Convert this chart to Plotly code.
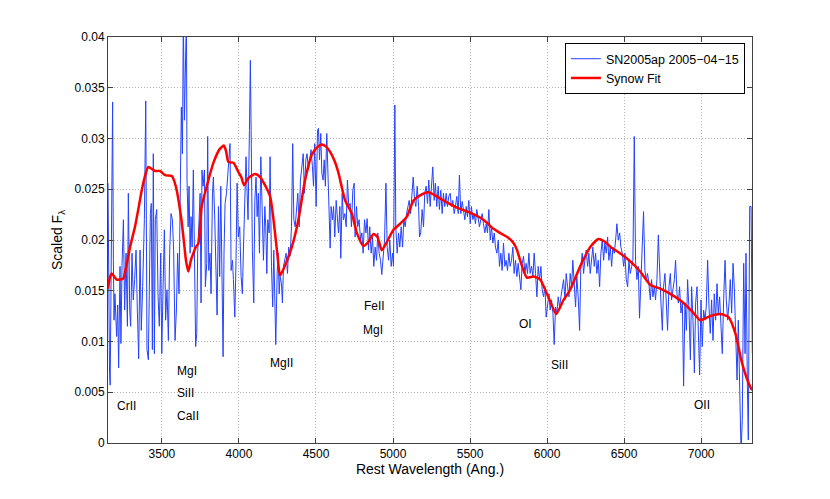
import plotly.graph_objects as go

# observed spectrum (rest wavelength in Angstrom, scaled flux)
wave_obs = [
    3150, 3155, 3160, 3164, 3170, 3175, 3180, 3185, 3189, 3195, 3202, 3206, 3213, 3219, 3228, 3234,
    3241, 3250, 3258, 3267, 3276, 3282, 3291, 3297, 3306, 3314, 3323, 3332, 3340, 3349, 3358, 3366,
    3375, 3386, 3395, 3403, 3412, 3418, 3425, 3431, 3438, 3444, 3451, 3457, 3466, 3475, 3483, 3492,
    3499, 3507, 3516, 3524, 3533, 3542, 3550, 3559, 3568, 3576, 3585, 3594, 3602, 3611, 3620, 3626,
    3633, 3639, 3646, 3652, 3659, 3663, 3670, 3676, 3683, 3689, 3696, 3704, 3713, 3719, 3726, 3732,
    3739, 3748, 3754, 3760, 3767, 3776, 3782, 3791, 3797, 3804, 3812, 3819, 3828, 3834, 3843, 3849,
    3858, 3867, 3875, 3882, 3890, 3897, 3903, 3910, 3919, 3927, 3936, 3942, 3949, 3958, 3964, 3973,
    3981, 3988, 3996, 4005, 4014, 4022, 4029, 4038, 4046, 4053, 4059, 4068, 4074, 4081, 4087, 4096,
    4103, 4111, 4118, 4126, 4133, 4142, 4150, 4159, 4168, 4174, 4181, 4187, 4196, 4202, 4211, 4219,
    4226, 4232, 4239, 4248, 4254, 4261, 4267, 4276, 4282, 4289, 4297, 4306, 4315, 4323, 4332, 4341,
    4349, 4356, 4365, 4373, 4382, 4391, 4399, 4408, 4417, 4425, 4434, 4442, 4451, 4460, 4468, 4477,
    4484, 4492, 4501, 4510, 4516, 4523, 4531, 4538, 4546, 4553, 4561, 4570, 4577, 4583, 4592, 4598,
    4607, 4614, 4622, 4631, 4637, 4646, 4655, 4661, 4670, 4678, 4687, 4696, 4704, 4713, 4722, 4730,
    4739, 4748, 4754, 4763, 4771, 4780, 4789, 4798, 4806, 4815, 4824, 4832, 4841, 4849, 4858, 4867,
    4875, 4884, 4893, 4901, 4910, 4919, 4927, 4936, 4945, 4954, 4962, 4971, 4979, 4988, 4997, 5003,
    5012, 5018, 5027, 5036, 5044, 5053, 5062, 5070, 5079, 5088, 5096, 5105, 5114, 5122, 5131, 5140,
    5148, 5157, 5166, 5172, 5180, 5189, 5198, 5206, 5215, 5224, 5232, 5241, 5250, 5258, 5267, 5275,
    5284, 5293, 5301, 5310, 5319, 5327, 5336, 5345, 5353, 5362, 5371, 5379, 5388, 5397, 5405, 5414,
    5423, 5431, 5440, 5449, 5457, 5466, 5475, 5483, 5492, 5501, 5509, 5518, 5527, 5535, 5544, 5553,
    5561, 5570, 5579, 5587, 5596, 5605, 5613, 5622, 5631, 5639, 5648, 5657, 5665, 5674, 5683, 5691,
    5700, 5708, 5717, 5726, 5734, 5743, 5752, 5760, 5769, 5778, 5786, 5795, 5804, 5812, 5821, 5830,
    5838, 5847, 5856, 5864, 5873, 5882, 5890, 5899, 5908, 5916, 5925, 5934, 5942, 5951, 5960, 5968,
    5977, 5986, 5994, 6003, 6012, 6020, 6029, 6038, 6046, 6055, 6064, 6072, 6081, 6090, 6098, 6107,
    6116, 6124, 6133, 6142, 6150, 6159, 6167, 6176, 6185, 6193, 6202, 6211, 6219, 6228, 6237, 6245,
    6254, 6263, 6271, 6280, 6289, 6297, 6306, 6315, 6323, 6332, 6341, 6349, 6358, 6367, 6375, 6384,
    6393, 6401, 6410, 6419, 6427, 6436, 6445, 6453, 6462, 6471, 6479, 6488, 6497, 6505, 6514, 6523,
    6531, 6540, 6549, 6557, 6566, 6574, 6583, 6592, 6600, 6609, 6618, 6626, 6635, 6644, 6652, 6661,
    6670, 6678, 6687, 6696, 6704, 6713, 6722, 6730, 6739, 6748, 6756, 6765, 6774, 6782, 6791, 6800,
    6808, 6817, 6826, 6834, 6843, 6852, 6860, 6869, 6878, 6886, 6895, 6904, 6912, 6921, 6930, 6938,
    6947, 6956, 6964, 6973, 6981, 6990, 6999, 7007, 7016, 7025, 7033, 7042, 7051, 7059, 7068, 7077,
    7085, 7094, 7103, 7111, 7120, 7129, 7137, 7146, 7155, 7163, 7172, 7181, 7189, 7198, 7207, 7215,
    7224, 7233, 7241, 7250, 7259, 7267, 7276, 7285, 7291, 7300, 7306, 7315, 7324, 7332,
]
flux_obs = [
    .0256, .0130, .0070, .0057, .0160, .0290, .0336, .0180, .0121, .0147, .0128, .0105, .0136, .0074, .0174, .0098,
    .0175, .0220, .0131, .0187, .0115, .0246, .0131, .0115, .0187, .0141, .0161, .0190, .0134, .0083, .0190, .0111,
    .0154, .0220, .0337, .0092, .0082, .0161, .0226, .0236, .0092, .0285, .0088, .0220, .0230, .0144, .0115, .0187,
    .0088, .0151, .0210, .0121, .0151, .0101, .0187, .0226, .0220, .0190, .0101, .0131, .0187, .0147, .0272, .0331,
    .0285, .0420, .0318, .0420, .0420, .0259, .0213, .0253, .0187, .0223, .0193, .0269, .0187, .0095, .0108, .0187,
    .0213, .0246, .0138, .0269, .0253, .0269, .0154, .0177, .0302, .0170, .0187, .0147, .0246, .0262, .0220, .0187,
    .0126, .0233, .0164, .0253, .0180, .0085, .0187, .0236, .0246, .0262, .0285, .0295, .0170, .0180, .0161, .0124,
    .0180, .0256, .0203, .0213, .0164, .0147, .0190, .0233, .0282, .0246, .0220, .0308, .0377, .0279, .0190, .0138,
    .0239, .0262, .0223, .0246, .0187, .0282, .0233, .0180, .0233, .0213, .0167, .0220, .0207, .0282, .0174, .0134,
    .0190, .0147, .0097, .0167, .0187, .0147, .0164, .0157, .0138, .0174, .0180, .0187, .0167, .0193, .0184, .0213,
    .0295, .0220, .0213, .0233, .0246, .0213, .0259, .0272, .0285, .0246, .0279, .0285, .0269, .0279, .0289, .0272,
    .0253, .0295, .0233, .0308, .0310, .0279, .0305, .0266, .0259, .0279, .0253, .0305, .0266, .0226, .0192, .0233,
    .0220, .0233, .0203, .0239, .0220, .0207, .0233, .0182, .0246, .0220, .0226, .0213, .0259, .0233, .0236, .0213,
    .0249, .0256, .0203, .0233, .0213, .0220, .0200, .0207, .0187, .0220, .0207, .0221, .0190, .0213, .0187, .0203,
    .0174, .0193, .0180, .0207, .0187, .0180, .0166, .0187, .0200, .0256, .0193, .0180, .0200, .0174, .0187, .0174,
    .0333, .0213, .0187, .0207, .0193, .0213, .0193, .0220, .0213, .0226, .0233, .0239, .0226, .0246, .0262, .0239,
    .0233, .0253, .0233, .0203, .0207, .0230, .0213, .0246, .0253, .0236, .0259, .0233, .0253, .0272, .0239, .0256,
    .0233, .0253, .0230, .0249, .0226, .0246, .0233, .0246, .0233, .0243, .0246, .0233, .0239, .0226, .0233, .0243,
    .0226, .0264, .0226, .0238, .0230, .0220, .0233, .0223, .0239, .0216, .0233, .0220, .0226, .0216, .0230, .0223,
    .0213, .0220, .0226, .0216, .0207, .0216, .0207, .0230, .0200, .0213, .0197, .0207, .0193, .0187, .0200, .0174,
    .0187, .0170, .0197, .0174, .0180, .0170, .0187, .0174, .0180, .0193, .0167, .0180, .0164, .0177, .0161, .0151,
    .0177, .0184, .0167, .0177, .0167, .0187, .0167, .0174, .0164, .0187, .0167, .0144, .0174, .0161, .0174, .0151,
    .0144, .0154, .0124, .0138, .0147, .0131, .0141, .0128, .0097, .0134, .0128, .0144, .0134, .0144, .0154, .0161,
    .0141, .0167, .0154, .0144, .0167, .0154, .0180, .0154, .0134, .0164, .0144, .0111, .0174, .0187, .0167, .0180,
    .0190, .0174, .0187, .0167, .0180, .0193, .0174, .0187, .0167, .0180, .0154, .0187, .0200, .0180, .0197, .0187,
    .0203, .0180, .0193, .0174, .0193, .0187, .0200, .0216, .0200, .0207, .0193, .0187, .0174, .0187, .0161, .0154,
    .0180, .0167, .0174, .0180, .0302, .0180, .0161, .0174, .0123, .0167, .0200, .0228, .0170, .0161, .0167, .0157,
    .0141, .0161, .0144, .0154, .0141, .0161, .0205, .0164, .0138, .0111, .0154, .0167, .0128, .0111, .0154, .0167,
    .0141, .0154, .0161, .0180, .0147, .0138, .0154, .0128, .0138, .0056, .0138, .0111, .0161, .0131, .0082, .0154,
    .0121, .0069, .0138, .0154, .0115, .0067, .0141, .0095, .0131, .0121, .0134, .0180, .0134, .0108, .0141, .0101,
    .0147, .0121, .0157, .0128, .0144, .0121, .0088, .0141, .0180, .0141, .0121, .0138, .0161, .0128, .0177, .0154,
    .0105, .0062, .0121, .0039, -.0010, .0023, .0177, .0088, .0187, .0056, .0003, .0233, .0233, .0088,
]

# Synow fit
wave_fit = [
    3150, 3162, 3174, 3190, 3206, 3230, 3249, 3270, 3293, 3325, 3350, 3369, 3390, 3412, 3435, 3455,
    3488, 3520, 3564, 3580, 3596, 3612, 3629, 3645, 3656, 3671, 3688, 3704, 3720, 3737, 3758, 3791,
    3834, 3877, 3903, 3917, 3931, 3964, 3996, 4015, 4033, 4061, 4105, 4137, 4169, 4202, 4218, 4234,
    4250, 4267, 4299, 4343, 4386, 4429, 4473, 4505, 4538, 4565, 4591, 4620, 4646, 4689, 4733, 4765,
    4808, 4840, 4873, 4899, 4927, 4960, 5003, 5046, 5090, 5133, 5176, 5230, 5284, 5349, 5414, 5500,
    5587, 5652, 5706, 5750, 5782, 5805, 5825, 5869, 5912, 5955, 5999, 6030, 6059, 6107, 6150, 6215,
    6280, 6334, 6377, 6421, 6464, 6540, 6604, 6669, 6734, 6821, 6886, 6951, 6994, 7059, 7124, 7178,
    7222, 7265, 7308, 7330,
]
flux_fit = [
    .0152, .0163, .0167, .0164, .0161, .0161, .0162, .0175, .0193, .0213, .0233, .0249, .0263, .0272, .0270, .0268,
    .0268, .0264, .0263, .0258, .0249, .0235, .0217, .0195, .0180, .0169, .0180, .0187, .0193, .0197, .0233, .0253,
    .0276, .0290, .0293, .0287, .0277, .0276, .0267, .0262, .0254, .0261, .0265, .0262, .0254, .0243, .0228, .0207,
    .0185, .0165, .0175, .0193, .0220, .0259, .0284, .0291, .0294, .0292, .0287, .0278, .0266, .0239, .0226, .0207,
    .0194, .0198, .0206, .0203, .0190, .0198, .0210, .0216, .0223, .0239, .0244, .0247, .0243, .0237, .0232, .0227,
    .0220, .0211, .0206, .0202, .0197, .0190, .0180, .0163, .0164, .0161, .0147, .0136, .0127, .0141, .0151, .0174,
    .0193, .0201, .0198, .0192, .0188, .0179, .0169, .0156, .0152, .0145, .0138, .0128, .0121, .0125, .0127, .0124,
    .0108, .0079, .0059, .0052,
]

# line identifications
ion_labels = ["CrII", "MgI", "SiII", "CaII", "MgII", "FeII", "MgI", "OI", "SiII", "OII"]
ion_wave = [3267, 3661, 3652, 3667, 4274, 4878, 4873, 5860, 6081, 7005]
ion_flux = [0.0036, 0.0071, 0.0049, 0.0027, 0.0079, 0.0135, 0.0111, 0.0117, 0.0077, 0.0037]

x_ticks = [3500, 4000, 4500, 5000, 5500, 6000, 6500, 7000]
y_ticks = [0, 0.005, 0.01, 0.015, 0.02, 0.025, 0.03, 0.035, 0.04]
y_ticktext = ["0", "0.005", "0.01", "0.015", "0.02", "0.025", "0.03", "0.035", "0.04"]

fig = go.Figure()
fig.add_trace(go.Scatter(
    x=wave_obs, y=flux_obs, mode="lines", name="SN2005ap 2005\u221204\u221215",
    line=dict(color="#2442ff", width=1),
))
fig.add_trace(go.Scatter(
    x=wave_fit, y=flux_fit, mode="lines", name="Synow Fit",
    line=dict(color="#ff0000", width=2.5, shape="spline", smoothing=0.6),
))

for lab, wx, fy in zip(ion_labels, ion_wave, ion_flux):
    fig.add_annotation(x=wx, y=fy, text=lab, showarrow=False,
                       font=dict(size=12, color="black"))

axis_style = dict(
    showline=True, linecolor="#404040", linewidth=1, mirror="allticks",
    ticks="inside", ticklen=5, tickcolor="#404040",
    showgrid=True, gridcolor="#b4b4b4", griddash="1px,2px", gridwidth=1,
    zeroline=False, tickfont=dict(size=12, color="black"),
)

fig.update_xaxes(range=[3150, 7330], tickvals=x_ticks,
                 title=dict(text="Rest Wavelength (Ang.)", font=dict(size=14, color="black"), standoff=2),
                 **axis_style)
fig.update_yaxes(range=[0, 0.04], tickvals=y_ticks, ticktext=y_ticktext,
                 title=dict(text="Scaled F<sub>\u03bb</sub>", font=dict(size=14, color="black"), standoff=8),
                 **axis_style)

# the page puts the figure 8px in from the top-left corner
fig.update_layout(
    width=830, height=499,
    margin=dict(l=100, r=86, t=29, b=64),
    paper_bgcolor="white", plot_bgcolor="white",
    font=dict(family="Liberation Sans, Arial, sans-serif", color="black"),
    showlegend=True,
    legend=dict(x=0.989, y=0.985, xanchor="right", yanchor="top",
                bgcolor="white", bordercolor="black", borderwidth=1,
                font=dict(size=12.5), tracegroupgap=0, itemwidth=30),
)

fig.write_html("out.html")
